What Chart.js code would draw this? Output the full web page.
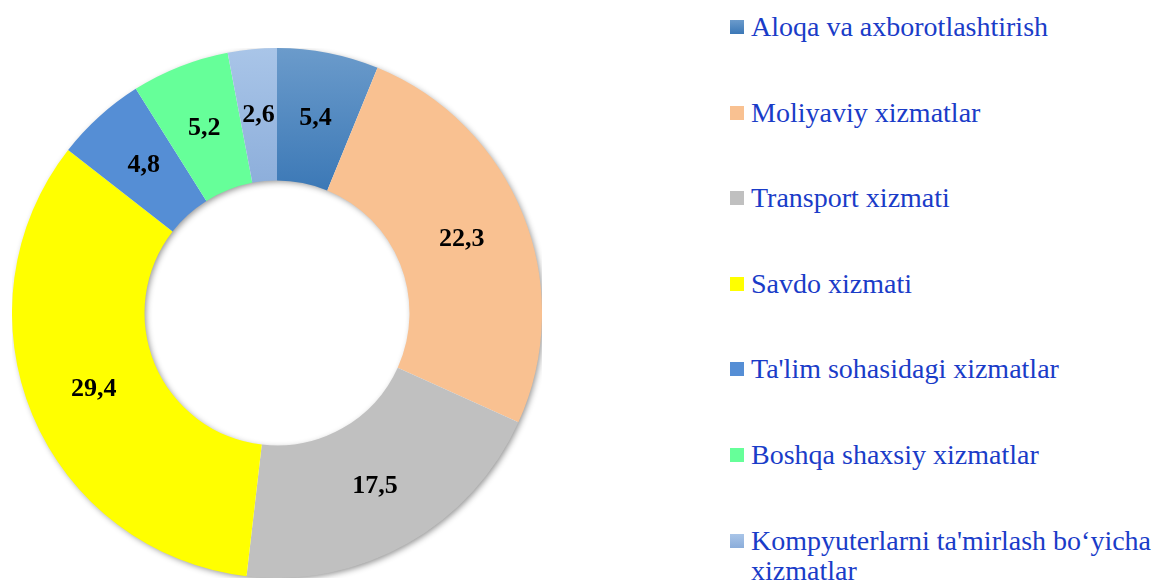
<!DOCTYPE html>
<html>
<head>
<meta charset="utf-8">
<script src="https://cdn.jsdelivr.net/npm/chart.js@4"></script>
<style>
  html, body { margin: 0; padding: 0; background: #fff; }
  body { width: 1153px; height: 582px; position: relative; overflow: hidden; }
  #chartBox { position: absolute; left: 12px; top: 48px; width: 530px; height: 530px; }
  #legend { position: absolute; left: 730px; top: 0; width: 423px; height: 582px; }
  .item { position: absolute; left: 0; display: flex; align-items: flex-start; }
  .box { width: 14px; height: 14px; margin-top: 8px; margin-right: 7px; flex: none; }
  .txt { font-family: "Liberation Serif", "Times New Roman", serif; font-size: 28px; line-height: 30px; color: #1a3cc8; white-space: nowrap; }
</style>
</head>
<body>
<div id="chartBox"><canvas id="donut"></canvas></div>
<div id="legend"></div>
<script>
const labels = [
  "Aloqa va axborotlashtirish",
  "Moliyaviy xizmatlar",
  "Transport xizmati",
  "Savdo xizmati",
  "Ta'lim sohasidagi xizmatlar",
  "Boshqa shaxsiy xizmatlar",
  ["Kompyuterlarni ta'mirlash bo‘yicha", "xizmatlar"]
];
const values = [5.4, 22.3, 17.5, 29.4, 4.8, 5.2, 2.6];
const colors = ["#4f86c0", "#f9c191", "#c0c0c0", "#ffff00", "#558ed5", "#66ff99", "#9dbbe3"];
// two slices have a light top-to-bottom gradient
const gradients = { 0: ["#6b9bcb", "#3b78b6"], 6: ["#a9c5e8", "#8badda"] };

function sliceColor(ctx) {
  const i = ctx.dataIndex;
  const area = ctx.chart.chartArea;
  if (!gradients[i] || !area) return colors[i];
  const g = ctx.chart.ctx.createLinearGradient(0, area.top, 0, area.top + 145);
  g.addColorStop(0, gradients[i][0]);
  g.addColorStop(1, gradients[i][1]);
  return g;
}

// soft shadow under the ring
const ringShadow = {
  id: "ringShadow",
  beforeDatasetsDraw(chart) {
    const arc = chart.getDatasetMeta(0).data[0];
    if (!arc) return;
    const { x, y, outerRadius, innerRadius } = arc.getProps(["x", "y", "outerRadius", "innerRadius"], true);
    const c = chart.ctx;
    c.save();
    c.shadowColor = "rgba(0,0,0,0.45)";
    c.shadowBlur = 6;
    c.shadowOffsetX = 2;
    c.shadowOffsetY = 2;
    c.fillStyle = "#fff";
    c.beginPath();
    c.arc(x, y, outerRadius - 1, 0, Math.PI * 2);
    c.arc(x, y, innerRadius + 1, 0, Math.PI * 2, true);
    c.fill();
    c.restore();
  }
};

const valueLabels = {
  id: "valueLabels",
  afterDatasetsDraw(chart) {
    const c = chart.ctx;
    const meta = chart.getDatasetMeta(0);
    c.save();
    c.font = "bold 26px 'Liberation Serif', 'Times New Roman', serif";
    c.fillStyle = "#000";
    c.textAlign = "center";
    c.textBaseline = "middle";
    meta.data.forEach((arc, i) => {
      const p = arc.tooltipPosition();
      c.fillText(values[i].toFixed(1).replace(".", ","), p.x, p.y);
    });
    c.restore();
  }
};

new Chart(document.getElementById("donut"), {
  type: "doughnut",
  data: {
    labels,
    datasets: [{ data: values, backgroundColor: sliceColor, borderWidth: 0, hoverOffset: 0 }]
  },
  options: {
    responsive: true,
    maintainAspectRatio: false,
    animation: false,
    cutout: "50%",
    layout: { padding: 0 },
    plugins: { legend: { display: false }, tooltip: { enabled: false } }
  },
  plugins: [ringShadow, valueLabels]
});

// legend on the right
const legend = document.getElementById("legend");
labels.forEach((l, i) => {
  const item = document.createElement("div");
  item.className = "item";
  item.style.top = (12 + i * 85.6) + "px";
  const box = document.createElement("div");
  box.className = "box";
  box.style.background = gradients[i]
    ? `linear-gradient(${gradients[i][0]}, ${gradients[i][1]})`
    : colors[i];
  const txt = document.createElement("div");
  txt.className = "txt";
  txt.innerHTML = (Array.isArray(l) ? l : [l]).join("<br>");
  item.appendChild(box);
  item.appendChild(txt);
  legend.appendChild(item);
});
</script>
</body>
</html>
